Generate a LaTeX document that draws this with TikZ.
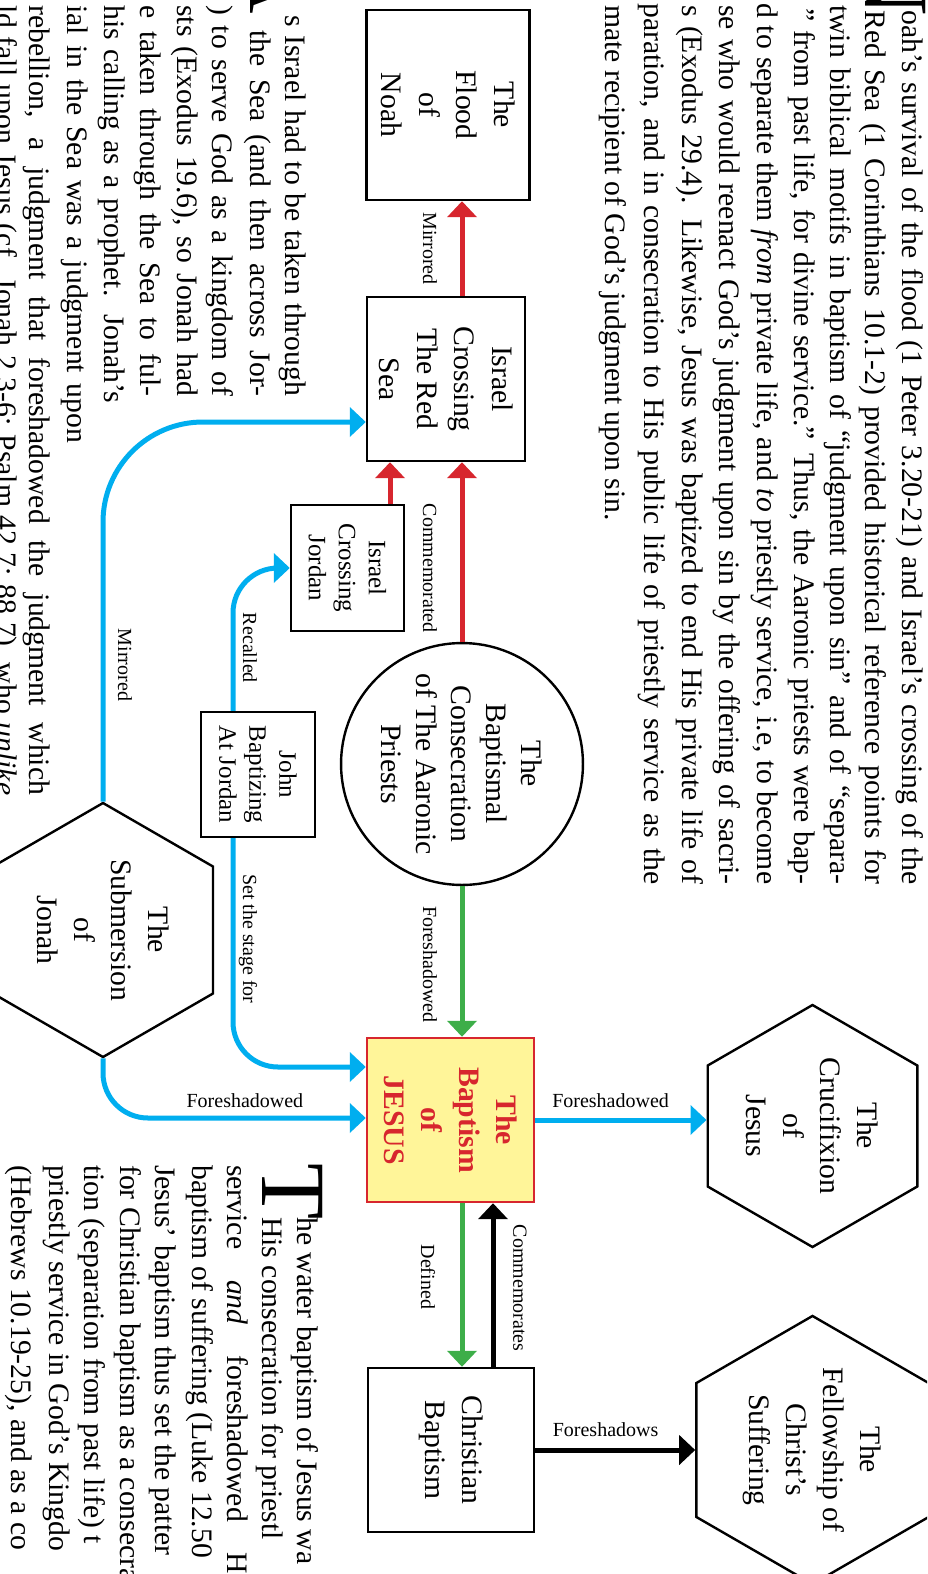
\documentclass[tikz,border=0pt]{standalone}
\usepackage{fontspec}
\setmainfont{Liberation Serif}
\usetikzlibrary{arrows.meta,shapes.geometric}

\definecolor{linkblue}{RGB}{0,174,239}
\definecolor{linkred}{RGB}{215,38,46}
\definecolor{linkgreen}{RGB}{61,174,73}
\definecolor{keyfill}{RGB}{255,245,153}

\newcommand{\bodysize}{\fontsize{29.7}{36.5}\selectfont}

\tikzset{
  turned/.style={rotate=-90},
  frame/.style={turned, draw, line width=2.4pt, inner sep=0pt, align=center},
  plainbox/.style={frame, rectangle, font=\fontsize{29.7}{37.5}\selectfont},
  smallbox/.style={frame, rectangle, font=\fontsize{25}{30}\selectfont},
  hexnode/.style={frame, regular polygon, regular polygon sides=6, font=\fontsize{29.7}{37}\selectfont},
  roundnode/.style={frame, circle, font=\fontsize{29.7}{35}\selectfont},
  keynode/.style={frame, rectangle, draw=linkred, fill=keyfill, text=linkred,
                  font=\bfseries\fontsize{29.7}{37.5}\selectfont},
  link/.style={line width=5pt, -{Triangle[length=16pt,width=29pt]}},
  tag/.style={inner sep=0pt, text=black, font=\fontsize{20}{24}\selectfont},
  tagturned/.style={tag, turned},
  textline/.style={turned, inner sep=0pt, anchor=base west, font=\bodysize},
  dropcap/.style={turned, inner sep=0pt, font=\fontsize{92}{92}\selectfont},
}

\begin{document}
\begin{tikzpicture}[x=1pt,y=-1pt]
\useasboundingbox (0,0) rectangle (927,1574);
\clip (0,0) rectangle (927,1574);
\fill[white] (0,0) rectangle (927,1574);

% ---------- paragraph along the right edge ----------
\node[dropcap, anchor=base east] (capN) at (865,16) {N};
\node[textline] (pa1) at (902,10) {\makebox[874pt][s]{oah’s survival of the flood (1 Peter 3.20-21) and Israel’s crossing of the}};
\node[textline] (pa2) at (865,10) {\makebox[874pt][s]{Red Sea (1 Corinthians 10.1-2) provided historical reference points for}};
\node[textline] (pa3) at (830,5) {\makebox[879pt][s]{twin biblical motifs in baptism of “judgment upon sin” and of “separa-}};
\node[textline] (pa4) at (794,8) {\makebox[876pt][s]{” from past life, for divine service.” Thus, the Aaronic priests were bap-}};
\node[textline] (pa5) at (757,3) {\makebox[881pt][s]{d to separate them \textit{from} private life, and \textit{to} priestly service, i.e, to become}};
\node[textline] (pa6) at (719,5) {\makebox[879pt][s]{se who would reenact God’s judgment upon sin by the offering of sacri-}};
\node[textline] (pa7) at (682,5) {\makebox[879pt][s]{s (Exodus 29.4). Likewise, Jesus was baptized to end His private life of}};
\node[textline] (pa8) at (644,3) {\makebox[881pt][s]{paration, and in consecration to His public life of priestly service as the}};
\node[textline] (pa9) at (605,5) {mate recipient of God’s judgment upon sin.};

% ---------- paragraph along the left edge ----------
\node[dropcap, anchor=base east] (capA) at (250,14) {A};
\node[textline] (pb1) at (285,15) {\makebox[381pt][s]{s Israel had to be taken through}};
\node[textline] (pb2) at (250,30) {\makebox[366pt][s]{the Sea (and then across Jor-}};
\node[textline] (pb3) at (212,5) {\makebox[391pt][s]{) to serve God as a kingdom of}};
\node[textline] (pb4) at (177,5) {\makebox[391pt][s]{sts (Exodus 19.6), so Jonah had}};
\node[textline] (pb5) at (140,5) {\makebox[391pt][s]{e taken through the Sea to ful-}};
\node[textline] (pb6) at (104,5) {\makebox[398pt][s]{his calling as a prophet. Jonah’s}};
\node[textline] (pb7) at (67,5) {\makebox[438pt][s]{ial in the Sea was a judgment upon}};
\node[textline] (pb8) at (29,5) {\makebox[790pt][s]{rebellion, a judgment that foreshadowed the judgment which}};
\node[textline] (pb9) at (-3,5) {\makebox[790pt][s]{ld fall upon Jesus (cf. Jonah 2.3-6; Psalm 42.7; 88.7), who \textit{unlike}}};

% ---------- paragraph at the lower left ----------
\node[dropcap, anchor=base west] (capT) at (262,1163) {T};
\node[textline] (pc1) at (297,1217) {he water baptism of Jesus wa};
\node[textline] (pc2) at (262,1217) {His consecration for priestl};
\node[textline] (pc3) at (227,1165) {\makebox[409pt][s]{service \textit{and} foreshadowed H}};
\node[textline] (pc4) at (192,1165) {baptism of suffering (Luke 12.50};
\node[textline] (pc5) at (155,1165) {Jesus’ baptism thus set the patter};
\node[textline] (pc6) at (120,1165) {for Christian baptism as a consecra};
\node[textline] (pc7) at (84,1165) {tion (separation from past life) t};
\node[textline] (pc8) at (49,1165) {priestly service in God’s Kingdo};
\node[textline] (pc9) at (12,1165) {(Hebrews 10.19-25), and as a co};

% ---------- diagram nodes ----------
\node[plainbox, minimum width=190pt, minimum height=163pt] (flood) at (448,105) {The\\Flood\\of\\Noah};
\node[plainbox, minimum width=164pt, minimum height=158pt] (redsea) at (446,379) {Israel\\Crossing\\The Red\\Sea};
\node[smallbox, minimum width=126pt, minimum height=113pt] (jordan) at (347.5,568) {Israel\\Crossing\\Jordan};
\node[roundnode, minimum size=234pt] (priests) at (462,764) {The\\Baptismal\\Consecration\\of The Aaronic\\Priests};
\node[smallbox, minimum width=125pt, minimum height=114pt] (john) at (258,774.5) {John\\Baptizing\\At Jordan};
\node[hexnode, minimum size=254pt] (jonah) at (103,930) {The\\Submersion\\of\\Jonah};
\node[keynode, minimum width=164pt, minimum height=167pt] (jesus) at (450.5,1120) {The\\Baptism\\of\\JESUS};
\node[hexnode, minimum size=242pt] (cross) at (812.5,1126) {The\\Crucifixion\\of\\Jesus};
\node[plainbox, minimum width=164pt, minimum height=166pt] (christian) at (451,1450) {Christian\\Baptism};
\node[hexnode, minimum size=250pt] (fellowship) at (812.5,1450) {The\\Fellowship of\\Christ’s\\Suffering};

% guide lines for connectors that leave a node off its centre
\coordinate (colA) at (462,0);
\coordinate (colB) at (390,0);
\coordinate (colC) at (233,0);
\coordinate (colD) at (493,0);
\coordinate (rowA) at (0,422);
\coordinate (rowB) at (0,1067);
\coordinate (rowC) at (0,1118);

% ---------- connectors ----------
\draw[link, linkred] (redsea.west -| colA) -- (flood.east -| colA)
  node[xshift=-32pt, tagturned, midway] (tMirrorA) {Mirrored};
\draw[link, linkred] (priests.west) -- (redsea.east -| priests.west)
  node[xshift=-32pt, tagturned, pos=0.41] (tComm) {Commemorated};
\draw[link, linkred] (jordan.west -| colB) -- (redsea.east -| colB);

\draw[link, linkblue, rounded corners=100pt] (jonah.west) |- (redsea.south |- rowA)
  node[xshift=22pt, tagturned, pos=0.18] (tMirrorB) {Mirrored};
\draw[link, linkblue, rounded corners=45pt] (john.west -| colC) |- (jordan.south)
  node[xshift=17pt, tagturned, pos=0.22] (tRecall) {Recalled};
\draw[link, linkblue, rounded corners=45pt] (john.east -| colC) |- (jesus.south |- rowB)
  node[xshift=15pt, tagturned, pos=0.22] (tStage) {Set the stage for};
\draw[link, linkblue, rounded corners=45pt] (jonah.east) |- (jesus.south |- rowC)
  node[tag, pos=0.77, yshift=17pt] (tJonah) {Foreshadowed};
\draw[link, linkblue] (jesus.north) -- (cross.south |- jesus.north)
  node[tag, pos=0.44, yshift=19pt] (tCross) {Foreshadowed};

\draw[link, linkgreen] (priests.east) -- (jesus.west -| priests.east)
  node[xshift=-32pt, tagturned, pos=0.52] (tPriests) {Foreshadowed};
\draw[link, linkgreen] (jesus.east -| colA) -- (christian.west -| colA)
  node[xshift=-34pt, tagturned, pos=0.45] (tDefined) {Defined};
\draw[link, black] (christian.west -| colD) -- (jesus.east -| colD)
  node[xshift=27pt, tagturned, pos=0.48] (tCommem) {Commemorates};
\draw[link, black] (christian.north) -- (fellowship.south |- christian.north)
  node[tag, pos=0.44, yshift=20pt] (tFellow) {Foreshadows};
\end{tikzpicture}
\end{document}
